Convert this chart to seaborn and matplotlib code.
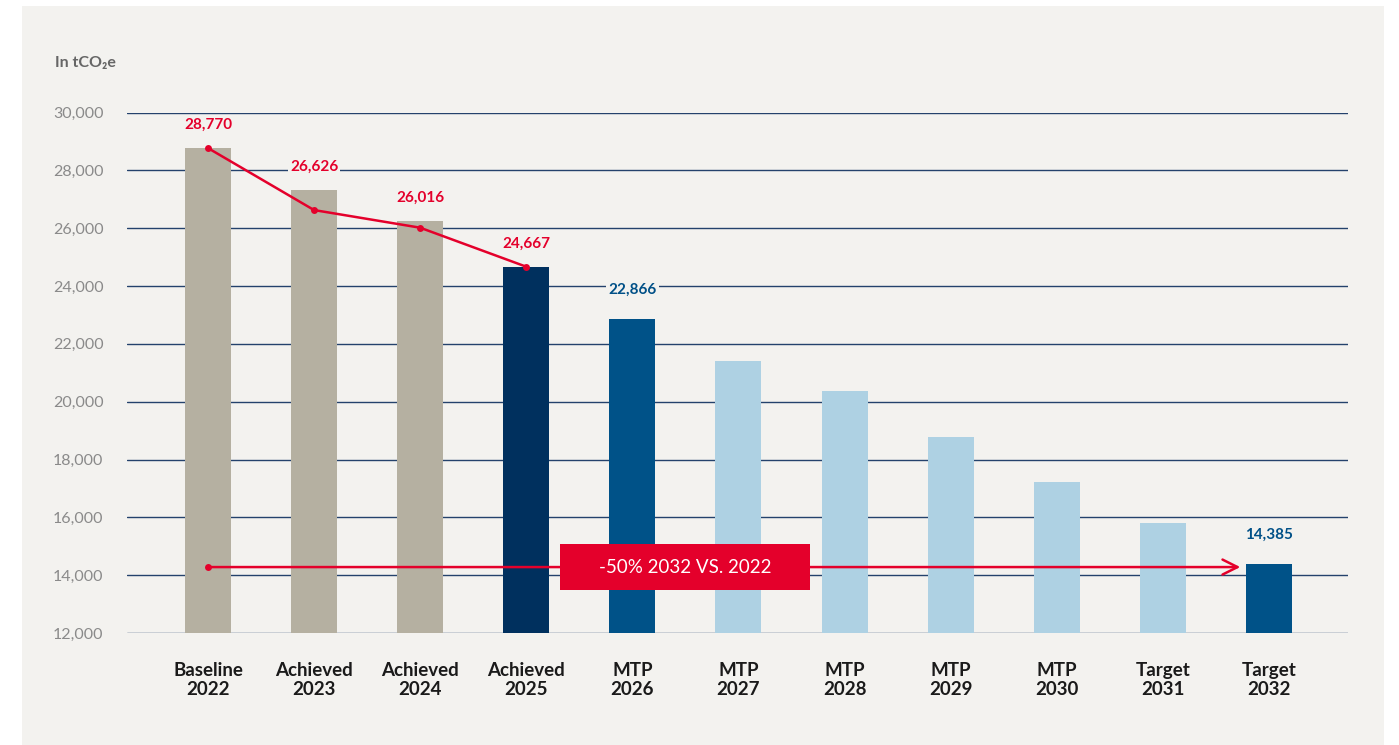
import matplotlib
matplotlib.use("Agg")
import matplotlib.pyplot as plt
from matplotlib.patches import Rectangle
import seaborn as sns

# Emissions trajectory, scope in tCO2e
categories = ["Baseline\n2022", "Achieved\n2023", "Achieved\n2024", "Achieved\n2025",
              "MTP\n2026", "MTP\n2027", "MTP\n2028", "MTP\n2029", "MTP\n2030",
              "Target\n2031", "Target\n2032"]
bar_values = [28770, 27320, 26250, 24667, 22866, 21400, 20370, 18780, 17215, 15800, 14385]
bar_colors = ["#b5b0a1", "#b5b0a1", "#b5b0a1", "#00305e", "#005288",
              "#aed1e3", "#aed1e3", "#aed1e3", "#aed1e3", "#aed1e3", "#005288"]

# Actual emissions path (red line)
actual_idx = [0, 1, 2, 3]
actual_values = [28770, 26626, 26016, 24667]

# Labelled planned values
blue_label_idx = [4, 10]
blue_label_values = [22866, 14385]

yticks = [12000, 14000, 16000, 18000, 20000, 22000, 24000, 26000, 28000, 30000]
reduction_text = "-50% 2032 VS. 2022"
unit_text = "In tCO\u2082e"

BG = "#f3f2ef"
RED = "#e4002b"
GRID = "#24426c"
W, H = 1399, 745

sns.set_theme(style="white")
plt.rcParams["font.family"] = ["Lato", "DejaVu Sans"]

fig = plt.figure(figsize=(W / 100, H / 100), dpi=100, facecolor="white")
fig.add_artist(Rectangle((22 / W, 0), (1384 - 22) / W, (745 - 6) / H,
                         transform=fig.transFigure, facecolor=BG,
                         edgecolor="none", zorder=-10))

ax = fig.add_axes([127 / W, 1 - 633 / H, (1348 - 127) / W, (633 - 112.5) / H])
ax.set_facecolor("none")

sns.barplot(x=categories, y=bar_values, hue=categories, palette=bar_colors,
            width=0.434, legend=False, ax=ax, saturation=1, linewidth=0,
            zorder=2)

ax.set_ylim(12000, 30000)
ax.set_xlim(-0.763, 10.745)
ax.set_yticks(yticks)
ax.set_yticklabels([f"{v:,}" for v in yticks], color="#8a8a8a", fontsize=11.5)
ax.yaxis.grid(True, color=GRID, linewidth=1)
ax.set_axisbelow(True)
for s in ax.spines.values():
    s.set_visible(False)
ax.tick_params(axis="y", length=0, pad=17)
ax.tick_params(axis="x", length=0, pad=21)
for lbl in ax.get_xticklabels():
    lbl.set_fontweight("bold")
    lbl.set_fontsize(13.5)
    lbl.set_color("#1a1a1a")
    lbl.set_linespacing(1.15)
ax.set_xlabel("")
ax.set_ylabel("")

# Red actual-emissions line
sns.lineplot(x=actual_idx, y=actual_values, color=RED, linewidth=1.8,
             marker="o", markersize=5, markeredgewidth=0, ax=ax, zorder=4)

label_box = dict(boxstyle="square,pad=0.15", facecolor=BG, edgecolor="none")
for i, v in zip(actual_idx, actual_values):
    ax.text(i, bar_values[i] + 800, f"{v:,}", ha="center", va="center",
            color=RED, fontsize=11, fontweight="bold", bbox=label_box, zorder=3)
for i, v in zip(blue_label_idx, blue_label_values):
    ax.text(i, v + 1000, f"{v:,}", ha="center", va="center", color="#005087",
            fontsize=11, fontweight="bold", bbox=label_box, zorder=3)

# Reduction arrow from the baseline to the 2032 target
arrow_y = 14280
ax.annotate("", xy=(9.73, arrow_y), xytext=(0, arrow_y),
            arrowprops=dict(arrowstyle="->,head_length=0.9,head_width=0.45",
                            color=RED, lw=1.8, shrinkA=0, shrinkB=0), zorder=4)
ax.plot([0], [arrow_y], marker="o", markersize=5, color=RED,
        markeredgewidth=0, zorder=4)

box_w, box_h = 2.356, 1590
ax.add_patch(Rectangle((4.496 - box_w / 2, arrow_y - box_h / 2), box_w, box_h,
                       facecolor=RED, edgecolor="none", zorder=5))
ax.text(4.496, arrow_y, reduction_text, ha="center", va="center", color="white",
        fontsize=13.5, zorder=6)

fig.text(55 / W, 1 - 63 / H, unit_text, ha="left", va="center",
         color="#666666", fontsize=11.5, fontweight="bold")

fig.savefig("out.png", dpi=100, facecolor="white")
